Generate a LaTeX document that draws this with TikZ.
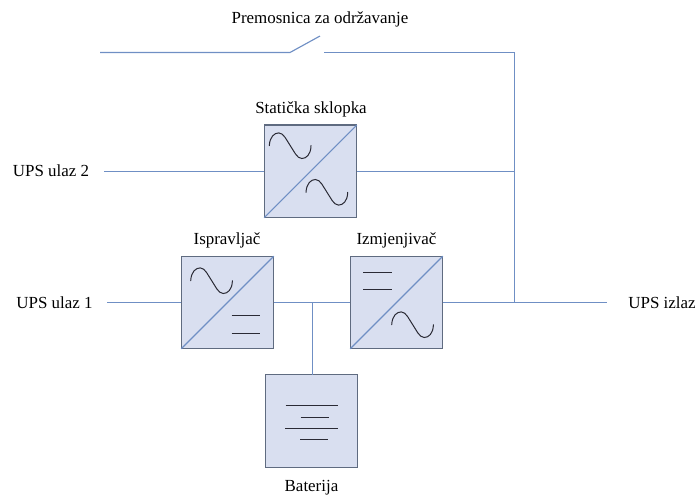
\documentclass[tikz,border=0pt]{standalone}
\usepackage{fontspec}
\setmainfont{Liberation Serif}
\definecolor{boxfill}{HTML}{D9DFF0}
\definecolor{boxedge}{HTML}{5F6B80}
\definecolor{wire}{HTML}{6F8FC4}
\definecolor{glyph}{HTML}{2A2A35}
\tikzset{
  px/.style={x=0.75pt,y=-0.75pt},
  unitbox/.style={draw=boxedge,fill=boxfill,line width=0.9pt,minimum width=69.5pt,minimum height=69.5pt,inner sep=0pt,outer sep=0pt},
  lbl/.style={font=\fontsize{12.7}{14}\selectfont,text=black,inner sep=0pt,anchor=base},
  wireline/.style={draw=wire,line width=0.85pt},
  diag/.style={draw=wire,line width=0.85pt},
  glyphline/.style={draw=glyph,line width=0.75pt},
  pics/sinewave/.style={code={
    \draw[glyphline,line cap=round] (0,0) .. controls (0.5,-9) and (5,-12.8) .. (9.5,-12.8)
      .. controls (14.5,-12.8) and (17.5,-5) .. (21,0)
      .. controls (24.5,5) and (27.5,12.8) .. (32.5,12.8)
      .. controls (37,12.8) and (41.5,9) .. (41.7,0);
  }}
}
\begin{document}
\begin{tikzpicture}[px]
\useasboundingbox (0,0) rectangle (697,497);
\node[lbl] (tbypass) at (320,23.5) {Premosnica za održavanje};
\node[lbl] (tstatic) at (311,113.5) {Statička sklopka};
\node[lbl] (trect) at (227,244) {Ispravljač};
\node[lbl] (tinv) at (396.5,244) {Izmjenjivač};
\node[lbl] (tbat) at (311.5,491.5) {Baterija};
\node[lbl] (in2) at (51,176.5) {UPS ulaz 2};
\node[lbl] (in1) at (54.5,308.5) {UPS ulaz 1};
\node[lbl] (out) at (662,308.5) {UPS izlaz};
\node[unitbox] (static) at (310.5,171.4) {};
\node[unitbox] (rect) at (227.5,302.5) {};
\node[unitbox] (inv) at (396.5,302.5) {};
\node[unitbox] (bat) at (311.5,421) {};
\coordinate (a2) at (104,171.4);
\coordinate (a1) at (107,302.5);
\coordinate (b0) at (100,52.5);
\coordinate (b1) at (290,52.5);
\coordinate (b2) at (320,36);
\coordinate (b3) at (324,52.5);
\coordinate (c) at (514.4,52.5);
\coordinate (j1) at (514.4,171.4);
\coordinate (j2) at (514.4,302.5);
\coordinate (e) at (607,302.5);
\coordinate (t) at (312.4,302.5);
\draw[wireline] (b0) -- (b1) -- (b2);
\draw[wireline] (b3) -- (c) -- (j2);
\draw[wireline] (a2) -- (static.west);
\draw[wireline] (static.east) -- (j1);
\draw[wireline] (a1) -- (rect.west);
\draw[wireline] (rect.east) -- (inv.west);
\draw[wireline] (inv.east) -- (e);
\draw[wireline] (t) -- (t |- bat.north);
\draw[diag] (static.south west) -- (static.north east);
\draw[diag] (rect.south west) -- (rect.north east);
\draw[diag] (inv.south west) -- (inv.north east);
\pic at (269.3,145.7) {sinewave};
\pic at (306,192.3) {sinewave};
\pic at (190.7,280.7) {sinewave};
\pic at (391.7,324.7) {sinewave};
\draw[glyphline] (231.7,315.5) -- (260,315.5);
\draw[glyphline] (231.7,333) -- (260,333);
\draw[glyphline] (363.3,272.5) -- (391.7,272.5);
\draw[glyphline] (363.3,289.5) -- (391.7,289.5);
\draw[glyphline] (285.7,405.5) -- (338.3,405.5);
\draw[glyphline] (300.7,417) -- (329,417);
\draw[glyphline] (285,428) -- (337.7,428);
\draw[glyphline] (300,439) -- (328,439);
\end{tikzpicture}
\end{document}
